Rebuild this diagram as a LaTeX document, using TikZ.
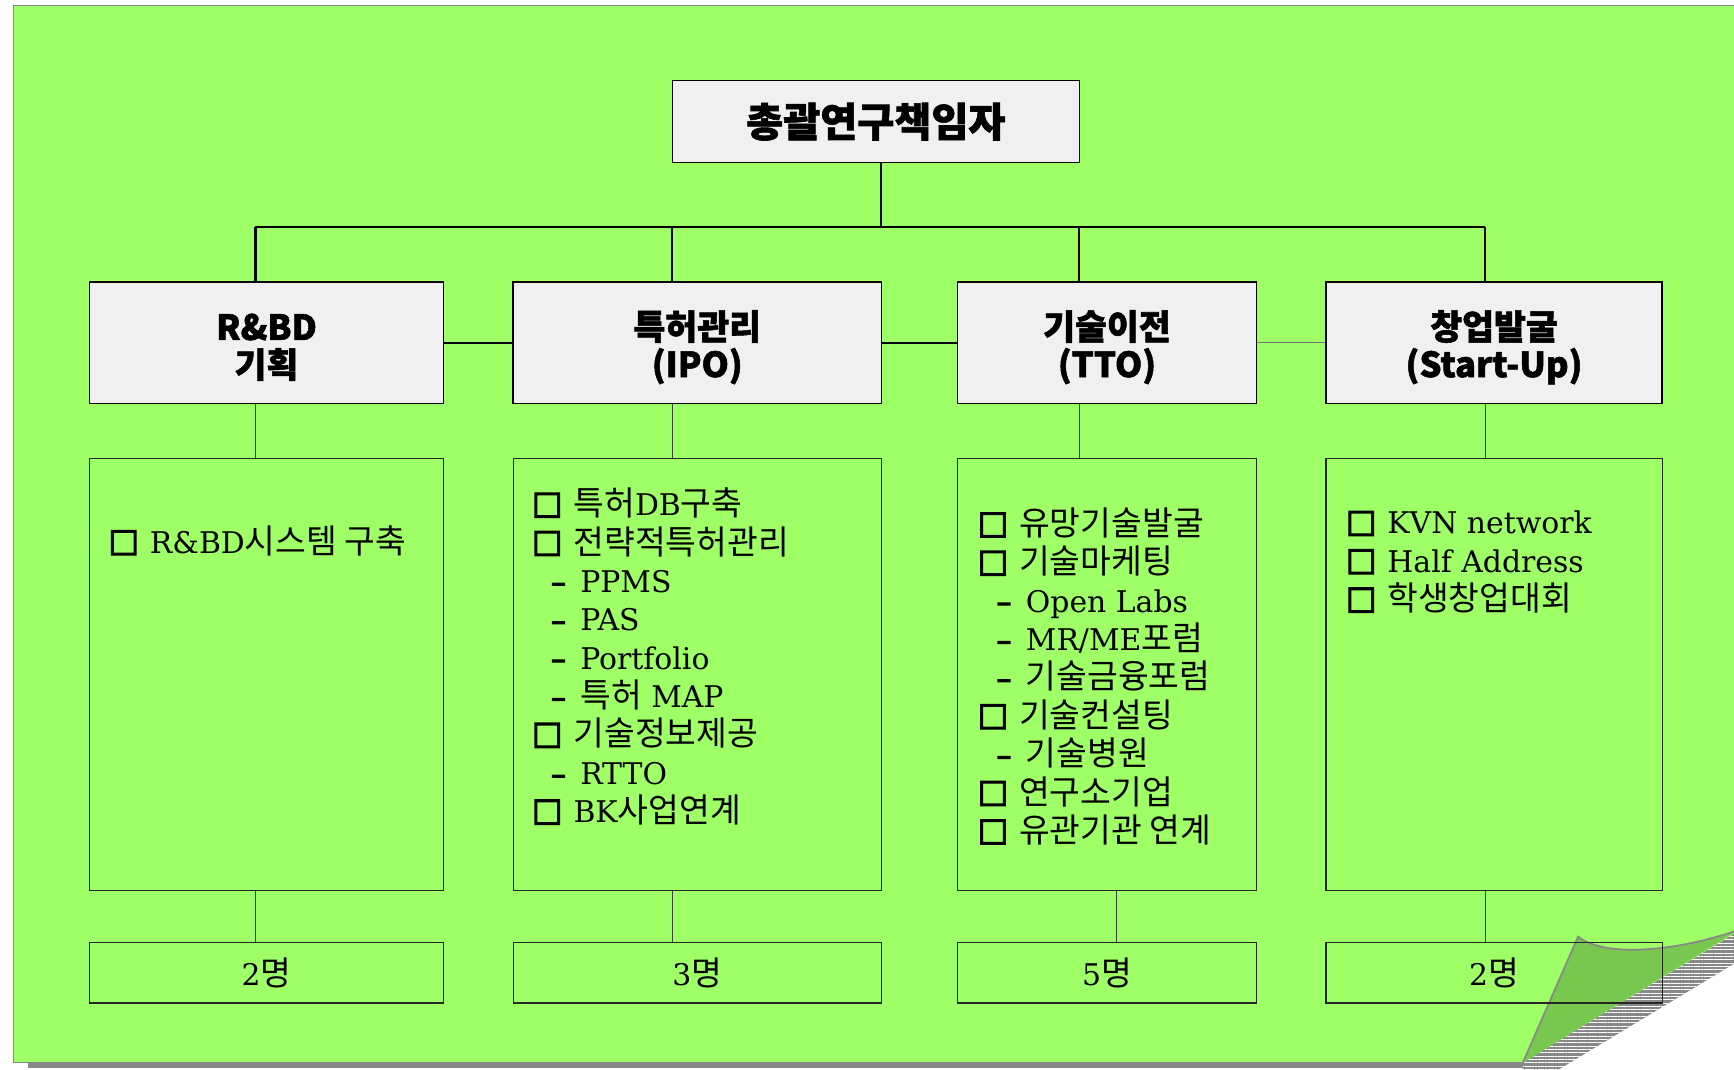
\documentclass[tikz,border=0pt]{standalone}
\usepackage{fontspec}
\setmainfont{DejaVu Serif}
\newfontfamily\kr{Noto Sans CJK KR}[Scale=1.12]
\newfontfamily\krh{Noto Sans CJK KR}[Scale=1.12, BoldFeatures={FakeBold=1.5}]
\newfontfamily\symf{DejaVu Sans}[FakeBold=4]
\usetikzlibrary{patterns.meta}
\definecolor{bg}{RGB}{158,255,102}
\definecolor{hdrfill}{RGB}{240,240,240}
\definecolor{flapc}{RGB}{120,200,80}
\definecolor{edgec}{RGB}{136,136,136}
\newcommand\K[1]{{\kr #1}}
\newcommand\sq{\raisebox{2pt}{\symf\fontsize{29}{29}\selectfont □}\hspace{10pt}}
\newcommand\sub{\hspace*{17pt}{\symf –}\hspace{13pt}}
\tikzset{
  hdr/.style={draw=black, line width=1.3pt, fill=hdrfill, inner sep=0pt},
  hdrtext/.style={align=center, inner sep=0pt, font=\krh\bfseries\fontsize{28}{34}\selectfont},
  cbox/.style={draw=black!85, line width=1pt, inner sep=0pt},
  cntbox/.style={draw=black!85, line width=1pt, inner sep=0pt, font=\fontsize{27}{32}\selectfont},
  itemtext/.style={align=left, inner sep=0pt, anchor=north west, font=\fontsize{27}{34.7}\selectfont},
  bus/.style={line width=2pt, draw=black},
  thinline/.style={line width=0.9pt, draw=black!75},
}
\begin{document}
\begin{tikzpicture}[x=1pt,y=-1pt]
\useasboundingbox (0,0) rectangle (1568,967);
% page shadow and background
\fill[edgec] (25,961) rectangle (1385,966);
\fill[bg] (12,5) -- (1572,5) -- (1572,843) -- (1377,961) -- (12,961) -- cycle;
\draw[edgec, line width=1.2pt] (1572,5) -- (12,5) -- (12,961) -- (1377,961);
% curl shadow
\fill[edgec] (1377,961) -- (1572,842) -- (1572,869) -- (1408,968) -- (1377,968) -- cycle;
\fill[pattern={Lines[angle=0,distance=3pt,line width=0.9pt]}, pattern color=white]
  (1377,961) -- (1572,842) -- (1572,869) -- (1408,968) -- (1377,968) -- cycle;
% curl flap
\fill[flapc] (1377,961) -- (1427,847) .. controls (1450,865) and (1510,862) .. (1572,841) -- cycle;
\draw[edgec, line width=1.6pt] (1377,961) -- (1427,847) .. controls (1450,865) and (1510,862) .. (1572,841);

% top box
\node[hdr, minimum width=368pt, minimum height=74pt, font=\krh\bfseries\fontsize{32.5}{36}\selectfont] (top) at (792,110) {총괄연구책임자};

% header boxes
\node[hdr, minimum width=320pt, minimum height=110pt] (h1) at (241,310) {};
\node[hdr, minimum width=333pt, minimum height=110pt] (h2) at (630.5,310) {};
\node[hdr, minimum width=270pt, minimum height=110pt] (h3) at (1001,310) {};
\node[hdr, minimum width=304pt, minimum height=110pt] (h4) at (1351,310) {};
\node[hdrtext] (h1t) at (241,314) {R\&BD\\기획};
\node[hdrtext] (h2t) at (630.5,314) {특허관리\\(IPO)};
\node[hdrtext] (h3t) at (1001,314) {기술이전\\(TTO)};
\node[hdrtext] (h4t) at (1351,314) {창업발굴\\(Start-Up)};

% content boxes
\node[cbox, minimum width=320pt, minimum height=390pt] (c1) at (241,610) {};
\node[cbox, minimum width=333pt, minimum height=390pt] (c2) at (630.5,610) {};
\node[cbox, minimum width=270pt, minimum height=390pt] (c3) at (1001,610) {};
\node[cbox, minimum width=304pt, minimum height=390pt] (c4) at (1351,610) {};

% count boxes
\node[cntbox, minimum width=320pt, minimum height=55pt] (n1) at (241,879.5) {2\K{명}};
\node[cntbox, minimum width=333pt, minimum height=55pt] (n2) at (630.5,879.5) {3\K{명}};
\node[cntbox, minimum width=270pt, minimum height=55pt] (n3) at (1001,879.5) {5\K{명}};
\node[cntbox, minimum width=304pt, minimum height=55pt] (n4) at (1351,879.5) {2\K{명}};

% content texts
\node[itemtext] (t1) at (98,475) {\sq R\&BD\K{시스템 구축}};
\node[itemtext] (t2) at (481,441) {%
\sq\K{특허}DB\K{구축}\\
\sq\K{전략적특허관리}\\
\sub PPMS\\
\sub PAS\\
\sub Portfolio\\
\sub\K{특허} MAP\\
\sq\K{기술정보제공}\\
\sub RTTO\\
\sq BK\K{사업연계}};
\node[itemtext] (t3) at (884,459) {%
\sq\K{유망기술발굴}\\
\sq\K{기술마케팅}\\
\sub Open Labs\\
\sub MR/ME\K{포럼}\\
\sub\K{기술금융포럼}\\
\sq\K{기술컨설팅}\\
\sub\K{기술병원}\\
\sq\K{연구소기업}\\
\sq\K{유관기관 연계}};
\node[itemtext] (t4) at (1217,462) {%
\sq KVN network\\
\sq Half Address\\
\sq\K{학생창업대회}};

% connectors
\coordinate (b0) at (797,205);
\coordinate (b1) at (231,205);
\coordinate (b2) at (608,205);
\coordinate (b3) at (976,205);
\coordinate (b4) at (1343,205);
\coordinate (d3) at (1010,830);
\draw[bus] (top.south -| b0) -- (b0);
\draw[bus] (b1) -- (b4);
\draw[bus] (b1) -- (h1.north -| b1);
\draw[bus] (b2) -- (h2.north -| b2);
\draw[bus] (b3) -- (h3.north -| b3);
\draw[bus] (b4) -- (h4.north -| b4);
\draw[bus] (h1.east) -- (h2.west);
\draw[bus] (h2.east) -- (h3.west);
\draw[thinline, draw=black!55] (h3.east) -- (h4.west);
\draw[thinline] (h1.south -| b1) -- (c1.north -| b1);
\draw[thinline] (h2.south -| b2) -- (c2.north -| b2);
\draw[thinline] (h3.south -| b3) -- (c3.north -| b3);
\draw[thinline] (h4.south -| b4) -- (c4.north -| b4);
\draw[thinline] (c1.south -| b1) -- (n1.north -| b1);
\draw[thinline] (c2.south -| b2) -- (n2.north -| b2);
\draw[thinline] (c3.south -| d3) -- (n3.north -| d3);
\draw[thinline] (c4.south -| b4) -- (n4.north -| b4);
\end{tikzpicture}
\end{document}
